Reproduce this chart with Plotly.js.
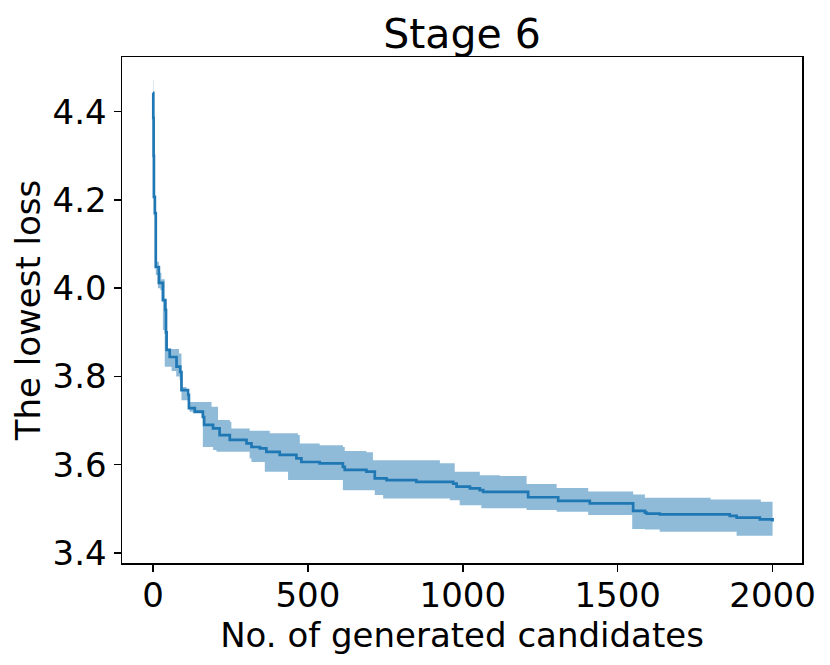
<!DOCTYPE html>
<html>
<head>
<meta charset="utf-8">
<script src="https://cdn.plot.ly/plotly-3.0.1.min.js"></script>
<style>html,body{margin:0;padding:0;background:#fff;}#chart{width:830px;height:665px;}</style>
</head>
<body>
<div id="chart"></div>
<script>
// Mean of the lowest loss (step points: x where value starts)
const meanX = [0,1,2,3,6,9,19,32,40,42,44,54,76,88,92,113,116,135,161,165,194,215,248,302,318,345,366,409,463,479,538,613,619,689,716,754,850,969,980,1023,1055,1066,1211,1308,1410,1550,1588,1594,1636,1862,1884,1959,2000];
const meanY = [4.443,4.386,4.30,4.207,4.170,4.048,4.012,3.973,3.951,3.90,3.860,3.844,3.822,3.810,3.769,3.758,3.728,3.720,3.708,3.690,3.682,3.667,3.656,3.648,3.640,3.637,3.629,3.622,3.614,3.606,3.603,3.595,3.588,3.584,3.569,3.565,3.561,3.557,3.550,3.546,3.542,3.538,3.526,3.518,3.512,3.495,3.491,3.489,3.487,3.484,3.480,3.476,3.471];

// Upper edge of the shaded band
const upperX = [0,1,3,6,9,19,27,38,41,43,84,92,108,116,189,210,248,253,312,377,468,474,538,613,619,689,710,926,974,1055,1120,1206,1303,1405,1550,1588,1800,1962,2000];
const upperY = [4.472,4.40,4.22,4.18,4.06,4.035,4.02,3.97,3.89,3.862,3.852,3.776,3.755,3.742,3.731,3.701,3.697,3.682,3.677,3.671,3.667,3.648,3.644,3.640,3.631,3.628,3.610,3.603,3.584,3.576,3.574,3.556,3.547,3.539,3.532,3.525,3.521,3.516,3.516];

// Lower edge of the shaded band
const lowerX = [0,1,3,6,9,16,24,32,38,43,60,75,86,92,118,129,161,194,205,312,318,361,436,613,716,743,958,990,1060,1206,1303,1405,1547,1588,1636,1884,2000];
const lowerY = [4.42,4.37,4.20,4.16,4.03,4.00,3.995,3.905,3.822,3.822,3.812,3.80,3.792,3.746,3.720,3.716,3.640,3.633,3.629,3.614,3.606,3.584,3.565,3.542,3.531,3.523,3.519,3.508,3.501,3.497,3.493,3.486,3.454,3.453,3.448,3.439,3.435];

const yTicks = [3.4,3.6,3.8,4.0,4.2,4.4];
const xTicks = [0,500,1000,1500,2000];

const C0 = '#1f77b4';
const traces = [
  {x: lowerX, y: lowerY, type: 'scatter', mode: 'lines', line: {width: 0, shape: 'hv', color: C0}, hoverinfo: 'skip', showlegend: false},
  {x: upperX, y: upperY, type: 'scatter', mode: 'lines', fill: 'tonexty', fillcolor: 'rgba(31,119,180,0.5)', line: {width: 0, shape: 'hv', color: C0}, hoverinfo: 'skip', showlegend: false},
  {x: meanX, y: meanY, type: 'scatter', mode: 'lines', line: {width: 2.7, shape: 'hv', color: C0}, showlegend: false}
];

const font = 'DejaVu Sans, sans-serif';
const layout = {
  width: 830, height: 665,
  margin: {l: 122, r: 28, t: 57, b: 102},
  paper_bgcolor: '#fff', plot_bgcolor: '#fff',
  font: {family: font, color: '#000', size: 34},
  title: {text: 'Stage 6', xref: 'paper', x: 0.5, xanchor: 'center', yref: 'container', y: 0.95, yanchor: 'middle', font: {family: font, size: 41, color: '#000'}},
  xaxis: {
    range: [-100, 2095], tickvals: xTicks, ticktext: xTicks.map(String),
    ticks: 'outside', ticklen: 7, tickwidth: 1.5, tickcolor: '#000',
    showline: true, linecolor: '#000', linewidth: 1.5, mirror: true,
    showgrid: false, zeroline: false, tickfont: {size: 34},
    ticklabelstandoff: -5,
    automargin: false,
    title: {text: 'No. of generated candidates', font: {size: 34}, standoff: 0}
  },
  yaxis: {
    range: [3.377, 4.524], tickvals: yTicks, ticktext: yTicks.map(v => v.toFixed(1)),
    ticks: 'outside', ticklen: 7, tickwidth: 1.5, tickcolor: '#000',
    showline: true, linecolor: '#000', linewidth: 1.5, mirror: true,
    showgrid: false, zeroline: false, tickfont: {size: 34},
    automargin: false,
    title: {text: 'The lowest loss', font: {size: 34}, standoff: 1}
  }
};
Plotly.newPlot('chart', traces, layout, {displayModeBar: false, staticPlot: true});
</script>
</body>
</html>
